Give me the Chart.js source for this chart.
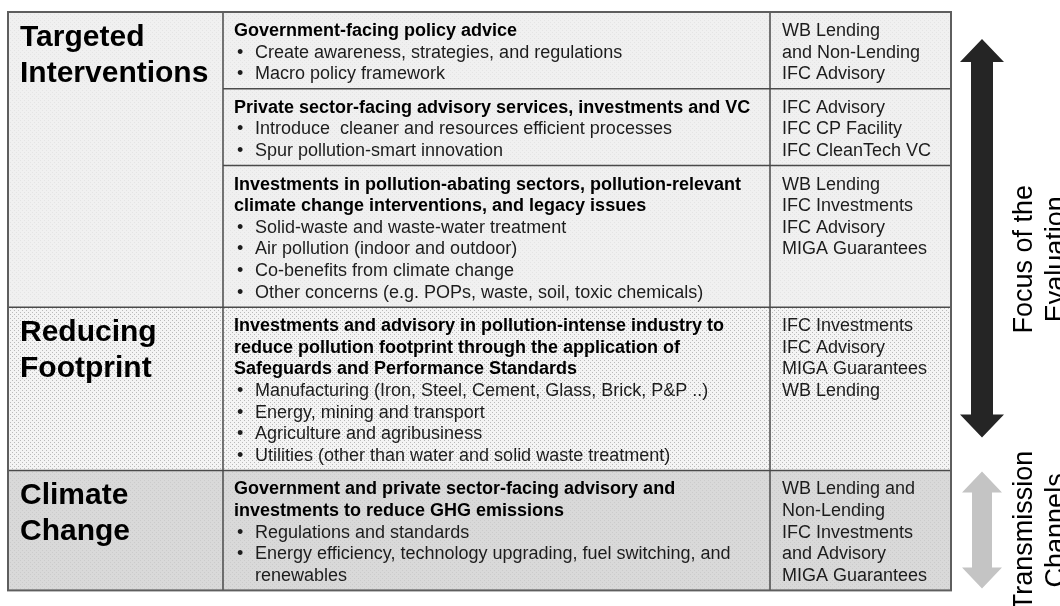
<!DOCTYPE html>
<html>
<head>
<meta charset="utf-8">
<script src="https://cdn.jsdelivr.net/npm/chart.js@4.4.1/dist/chart.umd.min.js"></script>
<style>
  html, body { margin: 0; padding: 0; background: #fff; }
  #wrap { width: 1060px; height: 606px; position: relative; }
</style>
</head>
<body>
<div id="wrap"><canvas id="framework"></canvas></div>
<script>
// --- contents of the table ---
const sectionTitles = [['Targeted', 'Interventions'], ['Reducing', 'Footprint'], ['Climate', 'Change']];
const rowSection = [0, 0, 0, 1, 2];

const rowHeadings = [
    ['Government-facing policy advice'],
    ['Private sector-facing advisory services, investments and VC'],
    ['Investments in pollution-abating sectors, pollution-relevant', 'climate change interventions, and legacy issues'],
    ['Investments and advisory in pollution-intense industry to', 'reduce pollution footprint through the application of', 'Safeguards and Performance Standards'],
    ['Government and private sector-facing advisory and', 'investments to reduce GHG emissions']
];

const rowBullets = [
    [['Create awareness, strategies, and regulations'], ['Macro policy framework']],
    [['Introduce  cleaner and resources efficient processes'], ['Spur pollution-smart innovation']],
    [['Solid-waste and waste-water treatment'], ['Air pollution (indoor and outdoor)'], ['Co-benefits from climate change'], ['Other concerns (e.g. POPs, waste, soil, toxic chemicals)']],
    [['Manufacturing (Iron, Steel, Cement, Glass, Brick, P&P ..)'], ['Energy, mining and transport'], ['Agriculture and agribusiness'], ['Utilities (other than water and solid waste treatment)']],
    [['Regulations and standards'], ['Energy efficiency, technology upgrading, fuel switching, and', 'renewables']]
];

const rowInstruments = [
    ['WB Lending', 'and Non-Lending', 'IFC Advisory'],
    ['IFC Advisory', 'IFC CP Facility', 'IFC CleanTech VC'],
    ['WB Lending', 'IFC Investments', 'IFC Advisory', 'MIGA Guarantees'],
    ['IFC Investments', 'IFC Advisory', 'MIGA Guarantees', 'WB Lending'],
    ['WB Lending and', 'Non-Lending', 'IFC Investments', 'and Advisory', 'MIGA Guarantees']
];

const channelLabels = [['Focus of the', 'Evaluation'], ['Transmission', 'Channels']];
const channelRows = [[0, 3], [4, 4]];

// --- layout (units of the hidden linear scales = page pixels) ---
const LINE = 21.6, ROW_PAD = 12, TABLE_TOP = 12;
const colEdges = [8, 223, 770, 951];
const FONT = '"Liberation Sans", Arial, sans-serif';

function bodyLines(i) {
    const bullets = rowBullets[i].reduce((n, b) => n + b.length, 0);
    return Math.max(rowHeadings[i].length + bullets, rowInstruments[i].length);
}

const rowEdges = [TABLE_TOP];
rowSection.forEach((s, i) => rowEdges.push(rowEdges[i] + bodyLines(i) * LINE + ROW_PAD));

function dotPattern(ctx, bg, dot) {
    const c = document.createElement('canvas');
    c.width = 4; c.height = 4;
    const g = c.getContext('2d');
    g.fillStyle = bg; g.fillRect(0, 0, 4, 4);
    g.fillStyle = dot; g.fillRect(0, 0, 1, 1); g.fillRect(2, 2, 1, 1);
    return ctx.createPattern(c, 'repeat');
}

// section fills: targeted (light grey), footprint (dotted), climate (grey)
const sectionFills = [['#f0f0f0', '#e4e4e4'], ['#f4f4f4', '#bababa'], ['#d9d9d9', '#cbcbcb']];
const arrowStyles = [{ color: '#252525', shaft: 22, head: 44, tip: 23, inset: [27, 33] },
                     { color: '#c4c4c4', shaft: 20, head: 40, tip: 21, inset: [1, 2] }];

const tablePlugin = {
    id: 'pollutionTable',
    beforeDatasetsDraw(chart) {
        const ctx = chart.ctx;
        const X = v => chart.scales.x.getPixelForValue(v);
        const Y = v => chart.scales.y.getPixelForValue(v);
        ctx.save();

        // backgrounds
        sectionTitles.forEach((t, s) => {
            const rows = rowSection.map((r, i) => r === s ? i : -1).filter(i => i >= 0);
            const y0 = Y(rowEdges[rows[0]]), y1 = Y(rowEdges[rows[rows.length - 1] + 1]);
            ctx.fillStyle = dotPattern(ctx, sectionFills[s][0], sectionFills[s][1]);
            ctx.fillRect(X(colEdges[0]), y0, X(colEdges[3]) - X(colEdges[0]), y1 - y0);
        });

        // grid lines
        ctx.strokeStyle = '#4a4a4a';
        ctx.lineWidth = 1.5;
        rowEdges.forEach((e, i) => {
            if (i === 0 || i === rowEdges.length - 1) return;
            const newSection = rowSection[i] !== rowSection[i - 1];
            ctx.beginPath();
            ctx.moveTo(X(newSection ? colEdges[0] : colEdges[1]), Y(e));
            ctx.lineTo(X(colEdges[3]), Y(e));
            ctx.stroke();
        });
        [1, 2].forEach(c => {
            ctx.beginPath();
            ctx.moveTo(X(colEdges[c]), Y(rowEdges[0]));
            ctx.lineTo(X(colEdges[c]), Y(rowEdges[rowEdges.length - 1]));
            ctx.stroke();
        });
        ctx.strokeStyle = '#5e5e5e';
        ctx.lineWidth = 2;
        ctx.strokeRect(X(colEdges[0]), Y(rowEdges[0]), X(colEdges[3]) - X(colEdges[0]),
                       Y(rowEdges[rowEdges.length - 1]) - Y(rowEdges[0]));

        // section titles
        ctx.fillStyle = '#000';
        ctx.textBaseline = 'alphabetic';
        ctx.textAlign = 'left';
        ctx.font = 'bold 30px ' + FONT;
        sectionTitles.forEach((lines, s) => {
            const top = rowEdges[rowSection.indexOf(s)];
            lines.forEach((l, k) => ctx.fillText(l, X(colEdges[0] + 12), Y(top + 34 + k * 36)));
        });

        // cell text
        rowSection.forEach((s, i) => {
            const top = rowEdges[i] + 24;
            let n = 0;
            ctx.fillStyle = '#000';
            ctx.font = 'bold 18px ' + FONT;
            rowHeadings[i].forEach(l => { ctx.fillText(l, X(colEdges[1] + 11), Y(top + n * LINE)); n++; });
            ctx.fillStyle = '#1c1c1c';
            ctx.font = '18px ' + FONT;
            rowBullets[i].forEach(b => {
                ctx.fillText('\u2022', X(colEdges[1] + 14), Y(top + n * LINE));
                b.forEach(l => { ctx.fillText(l, X(colEdges[1] + 32), Y(top + n * LINE)); n++; });
            });
            rowInstruments[i].forEach((l, k) => ctx.fillText(l, X(colEdges[2] + 12), Y(top + k * LINE)));
        });

        // channel arrows and labels
        channelRows.forEach(([r0, r1], a) => {
            const st = arrowStyles[a];
            const cx = X(982);
            const yT = Y(rowEdges[r0] + st.inset[0]), yB = Y(rowEdges[r1 + 1] - st.inset[1]);
            ctx.fillStyle = st.color;
            ctx.beginPath();
            ctx.moveTo(cx, yT);
            ctx.lineTo(cx + st.head / 2, yT + st.tip);
            ctx.lineTo(cx + st.shaft / 2, yT + st.tip);
            ctx.lineTo(cx + st.shaft / 2, yB - st.tip);
            ctx.lineTo(cx + st.head / 2, yB - st.tip);
            ctx.lineTo(cx, yB);
            ctx.lineTo(cx - st.head / 2, yB - st.tip);
            ctx.lineTo(cx - st.shaft / 2, yB - st.tip);
            ctx.lineTo(cx - st.shaft / 2, yT + st.tip);
            ctx.lineTo(cx - st.head / 2, yT + st.tip);
            ctx.closePath();
            ctx.fill();

            const mid = (Y(rowEdges[r0]) + Y(rowEdges[r1 + 1])) / 2 + (a === 0 ? 18 : 0);
            ctx.fillStyle = '#000';
            ctx.font = '27px ' + FONT;
            ctx.textAlign = 'center';
            channelLabels[a].forEach((l, k) => {
                ctx.save();
                ctx.translate(X(1032 + k * 32), mid);
                ctx.rotate(-Math.PI / 2);
                ctx.fillText(l, 0, 0);
                ctx.restore();
            });
            ctx.textAlign = 'left';
        });

        ctx.restore();
    }
};

new Chart(document.getElementById('framework'), {
    type: 'scatter',
    data: { datasets: [] },
    options: {
        responsive: true,
        maintainAspectRatio: false,
        animation: false,
        layout: { padding: 0 },
        plugins: { legend: { display: false }, tooltip: { enabled: false } },
        scales: {
            x: { type: 'linear', min: 0, max: 1060, display: false },
            y: { type: 'linear', min: 0, max: 606, reverse: true, display: false }
        }
    },
    plugins: [tablePlugin]
});
</script>
</body>
</html>
